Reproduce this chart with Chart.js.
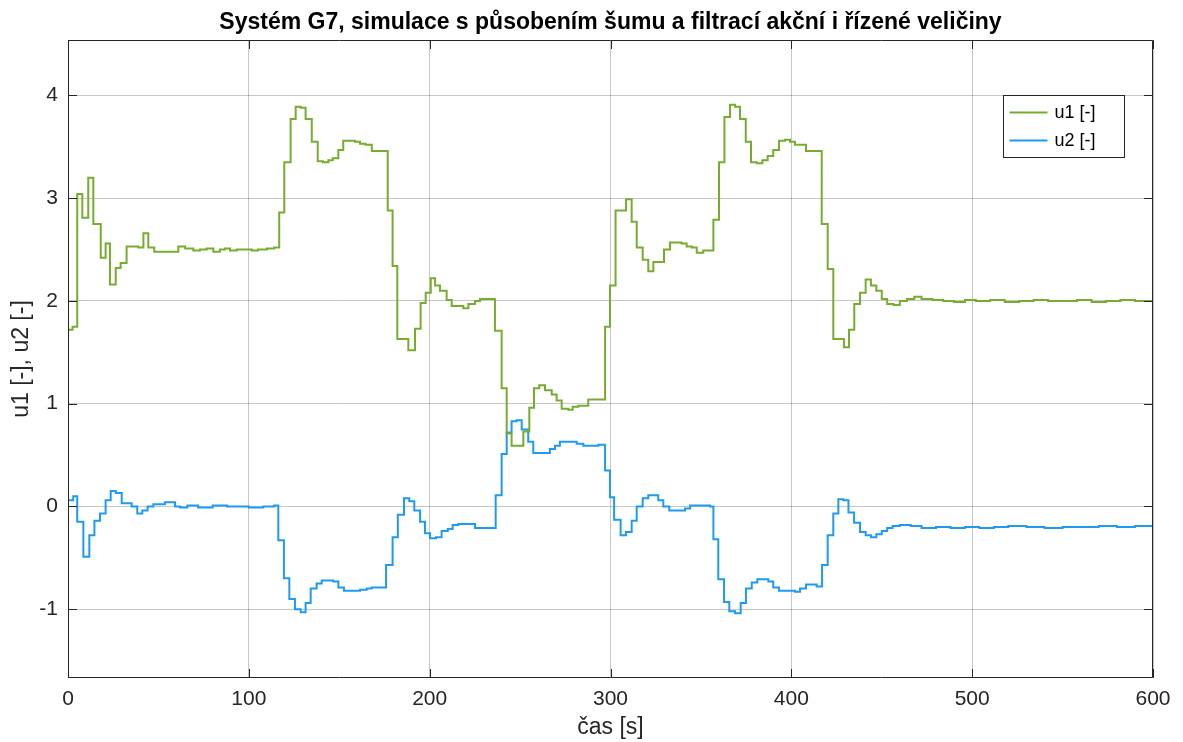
<!DOCTYPE html>
<html>
<head>
<meta charset="utf-8">
<script src="https://cdn.jsdelivr.net/npm/chart.js@4.4.1/dist/chart.umd.min.js"></script>
<style>
  html, body { margin: 0; padding: 0; background: #ffffff; }
  #wrap { width: 1183px; height: 742px; }
</style>
</head>
<body>
<div id="wrap"><canvas id="c" width="1183" height="742"></canvas></div>
<script>
// Zero-order-hold samples: each value holds from its time until the next one.
const U1_T = [0, 2.5, 5.1, 7.9, 11.2, 14.0, 18.1, 20.8, 23.2, 26.4, 29.1, 32.4, 38.9, 41.7, 44.4, 47.7,
  61.0, 64.8, 69.3, 73.0, 76.7, 80.4, 84.0, 86.8, 89.6, 93.3, 98.8, 101.6, 105.0, 110.0, 114.0,
  116.8, 119.6, 123.1, 125.9, 128.7, 131.4, 134.8, 138.1, 141.0, 144.0, 146.4, 149.5, 152.2, 158.7,
  161.5, 164.5, 168.0, 176.8, 179.5, 182.1, 188.2, 191.9, 195.0, 197.8, 200.6, 203.0, 205.7, 209.4,
  212.2, 218.6, 221.4, 225.1, 227.8, 236.1, 239.8, 242.6, 245.3, 251.8, 255.1, 257.7, 260.6, 263.8,
  267.5, 270.2, 273.0, 276.7, 279.1, 282.2, 287.7, 297.0, 299.7, 302.8, 308.6, 311.7, 314.5, 317.8,
  320.9, 323.7, 329.6, 332.9, 339.3, 342.1, 345.0, 347.7, 351.3, 356.9, 360.0, 363.0, 366.1, 368.9,
  371.6, 374.8, 377.7, 380.8, 384.0, 386.9, 390.0, 393.2, 396.5, 399.3, 402.0, 408.1, 416.8, 420.1,
  423.2, 429.1, 431.9, 434.8, 438.0, 441.1, 444.0, 447.0, 450.0, 453.0, 456.5, 460.0, 464.0, 468.0,
  472.0, 478.0, 484.0, 490.0, 496.0, 502.0, 510.0, 518.0, 526.0, 534.0, 542.0, 550.0, 558.0, 566.0,
  574.0, 582.0, 590.0, 600.0];
const U1_V = [1.72, 1.75, 3.04, 2.81, 3.20, 2.75, 2.42, 2.56, 2.16, 2.32, 2.37, 2.53, 2.52, 2.66, 2.52, 2.48,
  2.53, 2.51, 2.49, 2.50, 2.51, 2.48, 2.50, 2.51, 2.49, 2.50, 2.50, 2.49, 2.50, 2.51, 2.52,
  2.86, 3.35, 3.77, 3.89, 3.88, 3.77, 3.55, 3.36, 3.35, 3.37, 3.39, 3.47, 3.56, 3.55,
  3.53, 3.52, 3.46, 2.88, 2.34, 1.63, 1.52, 1.73, 1.98, 2.08, 2.22, 2.15, 2.10, 2.01,
  1.95, 1.93, 1.97, 2.00, 2.02, 1.71, 1.15, 0.71, 0.59, 0.73, 0.96, 1.15, 1.18, 1.13,
  1.09, 1.03, 0.95, 0.94, 0.97, 0.98, 1.04, 1.75, 2.15, 2.88, 2.99, 2.77, 2.52, 2.40,
  2.29, 2.38, 2.50, 2.57, 2.56, 2.53, 2.52, 2.47, 2.49, 2.79, 3.35, 3.79, 3.91, 3.89,
  3.77, 3.55, 3.35, 3.34, 3.37, 3.41, 3.47, 3.56, 3.57, 3.55, 3.52, 3.46, 2.75, 2.31,
  1.63, 1.55, 1.72, 1.97, 2.08, 2.21, 2.15, 2.10, 2.02, 1.97, 1.96, 2.00, 2.02, 2.04,
  2.02, 2.01, 2.00, 1.99, 2.01, 2.00, 2.01, 1.99, 2.00, 2.01, 2.00, 2.00, 2.01, 1.99,
  2.00, 2.01, 2.00, 2.01];

const U2_T = [0, 2.9, 5.1, 8.5, 11.8, 14.6, 17.7, 20.8, 23.6, 26.4, 29.7, 35.2, 38.3, 41.1, 44.0, 47.2,
  53.6, 59.2, 62.0, 66.0, 72.0, 80.0, 88.0, 100.0, 108.0, 114.0, 116.3, 119.4, 122.4, 125.5, 128.7,
  131.4, 134.2, 137.5, 140.3, 146.7, 149.5, 152.6, 161.5, 165.2, 167.9, 175.9, 179.5, 182.4, 185.8,
  188.7, 191.5, 194.7, 197.4, 200.2, 203.5, 206.6, 210.0, 212.7, 215.8, 225.1, 236.5, 239.8, 242.6,
  245.3, 248.1, 250.9, 254.5, 257.3, 262.8, 266.5, 269.3, 272.0, 281.3, 285.0, 293.3, 297.0, 299.7,
  302.0, 305.6, 308.6, 311.7, 314.5, 317.8, 320.9, 326.4, 329.2, 332.5, 341.2, 344.0, 355.0, 356.9,
  359.6, 362.8, 365.7, 368.9, 372.0, 374.9, 378.1, 381.2, 387.3, 390.0, 393.2, 402.0, 404.8, 408.1,
  414.0, 417.0, 420.1, 423.2, 426.0, 428.8, 431.6, 434.7, 438.0, 441.1, 444.0, 447.0, 450.0, 453.0,
  456.0, 460.0, 466.0, 472.0, 480.0, 488.0, 496.0, 504.0, 512.0, 520.0, 530.0, 540.0, 550.0, 560.0,
  570.0, 580.0, 590.0, 600.0];
const U2_V = [0.06, 0.10, -0.15, -0.49, -0.28, -0.14, -0.07, 0.06, 0.15, 0.13, 0.03, 0.00, -0.07, -0.04, 0.00, 0.02,
  0.04, 0.00, -0.01, 0.01, -0.01, 0.01, 0.00, -0.01, 0.00, 0.01, -0.33, -0.70, -0.90, -1.00, -1.03,
  -0.94, -0.80, -0.75, -0.72, -0.73, -0.79, -0.82, -0.81, -0.80, -0.79, -0.57, -0.30, -0.08, 0.08,
  0.05, -0.04, -0.15, -0.26, -0.31, -0.30, -0.24, -0.22, -0.18, -0.17, -0.21, 0.11, 0.51, 0.72,
  0.83, 0.84, 0.75, 0.63, 0.52, 0.52, 0.56, 0.59, 0.63, 0.61, 0.59, 0.60, 0.35, 0.09,
  -0.13, -0.28, -0.25, -0.14, 0.00, 0.08, 0.11, 0.06, 0.00, -0.04, -0.02, 0.01, 0.00, -0.32,
  -0.71, -0.93, -1.02, -1.04, -0.94, -0.80, -0.74, -0.71, -0.73, -0.79, -0.82, -0.83, -0.80, -0.76,
  -0.78, -0.57, -0.28, -0.07, 0.07, 0.06, -0.06, -0.16, -0.25, -0.28, -0.30, -0.27, -0.24, -0.21,
  -0.19, -0.18, -0.19, -0.21, -0.20, -0.21, -0.20, -0.21, -0.20, -0.19, -0.20, -0.21, -0.20, -0.20,
  -0.19, -0.20, -0.19, -0.19];

const X_TICKS = [0, 100, 200, 300, 400, 500, 600];
const Y_TICKS = [-1, 0, 1, 2, 3, 4];
const SERIES_NAMES = ['u1 [-]', 'u2 [-]'];
const TITLE = 'Systém G7, simulace s působením šumu a filtrací akční i řízené veličiny';
const X_LABEL = 'čas [s]';
const Y_LABEL = 'u1 [-], u2 [-]';

const GREEN = '#77ac30';
const BLUE = '#1e9bf0';
const AXIS = '#262626';
const FONT = '"Liberation Sans", Arial, Helvetica, sans-serif';

const toPoints = (t, v) => t.map((x, i) => ({ x: x, y: v[i] }));

// Title centred over the axes, axes box, inward tick marks and the boxed legend.
const frame = {
  id: 'frame',
  afterDatasetsDraw(chart) {
    const { ctx, chartArea: a, scales: { x, y } } = chart;
    ctx.save();

    ctx.fillStyle = '#000000';
    ctx.font = 'bold 23px ' + FONT;
    ctx.textAlign = 'center';
    ctx.textBaseline = 'middle';
    ctx.fillText(TITLE, (a.left + a.right) / 2, 22.5);

    ctx.strokeStyle = AXIS;
    ctx.lineWidth = 1;
    ctx.beginPath();
    ctx.rect(Math.round(a.left) + 0.5, Math.round(a.top) + 0.5,
             Math.round(a.right - a.left) - 1, Math.round(a.bottom - a.top) - 1);
    ctx.stroke();
    ctx.beginPath();
    const tl = 9;
    X_TICKS.forEach(v => {
      const px = Math.round(x.getPixelForValue(v)) + 0.5;
      ctx.moveTo(px, a.bottom); ctx.lineTo(px, a.bottom - tl);
      ctx.moveTo(px, a.top); ctx.lineTo(px, a.top + tl);
    });
    Y_TICKS.forEach(v => {
      const py = Math.round(y.getPixelForValue(v)) + 0.5;
      ctx.moveTo(a.left, py); ctx.lineTo(a.left + tl, py);
      ctx.moveTo(a.right, py); ctx.lineTo(a.right - tl, py);
    });
    ctx.stroke();

    // legend
    const bx = 1003.5, by = 95.5, bw = 121, bh = 62;
    ctx.fillStyle = '#ffffff';
    ctx.fillRect(bx, by, bw, bh);
    ctx.strokeStyle = AXIS;
    ctx.strokeRect(bx, by, bw, bh);
    ctx.font = '18px ' + FONT;
    ctx.textBaseline = 'middle';
    ctx.textAlign = 'left';
    chart.data.datasets.forEach((ds, i) => {
      const ly = by + 17 + i * 28;
      ctx.strokeStyle = ds.borderColor;
      ctx.lineWidth = 2;
      ctx.beginPath();
      ctx.moveTo(bx + 6, ly); ctx.lineTo(bx + 44, ly);
      ctx.stroke();
      ctx.fillStyle = '#000000';
      ctx.fillText(ds.label, bx + 51, ly + 1);
    });
    ctx.restore();
  }
};

new Chart(document.getElementById('c'), {
  type: 'line',
  data: {
    datasets: [
      { label: SERIES_NAMES[0], data: toPoints(U1_T, U1_V), borderColor: GREEN, borderWidth: 2,
        stepped: 'before', pointRadius: 0, fill: false },
      { label: SERIES_NAMES[1], data: toPoints(U2_T, U2_V), borderColor: BLUE, borderWidth: 2,
        stepped: 'before', pointRadius: 0, fill: false }
    ]
  },
  plugins: [frame],
  options: {
    responsive: false,
    animation: false,
    layout: { padding: { left: 0, right: 30, top: 40, bottom: 0 } },
    plugins: {
      legend: { display: false },
      tooltip: { enabled: false },
      title: { display: false }
    },
    scales: {
      x: {
        type: 'linear', min: 0, max: 600,
        afterBuildTicks: s => { s.ticks = X_TICKS.map(v => ({ value: v })); },
        afterFit: s => { s.height = 64; },
        grid: { color: 'rgba(0,0,0,0.22)', drawTicks: false, lineWidth: 1 },
        border: { display: false },
        ticks: { color: '#262626', padding: 9, maxRotation: 0, font: { family: FONT, size: 21 } },
        title: { display: true, text: X_LABEL, color: '#262626', padding: { top: 0, bottom: 1 },
                 font: { family: FONT, size: 23 } }
      },
      y: {
        type: 'linear', min: -1.67, max: 4.54,
        afterBuildTicks: s => { s.ticks = Y_TICKS.map(v => ({ value: v })); },
        afterFit: s => { s.width = 68; },
        grid: { color: 'rgba(0,0,0,0.22)', drawTicks: false, lineWidth: 1 },
        border: { display: false },
        ticks: { color: '#262626', padding: 10, font: { family: FONT, size: 21 } },
        title: { display: true, text: Y_LABEL, color: '#262626', padding: { top: 8, bottom: 0 },
                 font: { family: FONT, size: 23 } }
      }
    }
  }
});
</script>
</body>
</html>
